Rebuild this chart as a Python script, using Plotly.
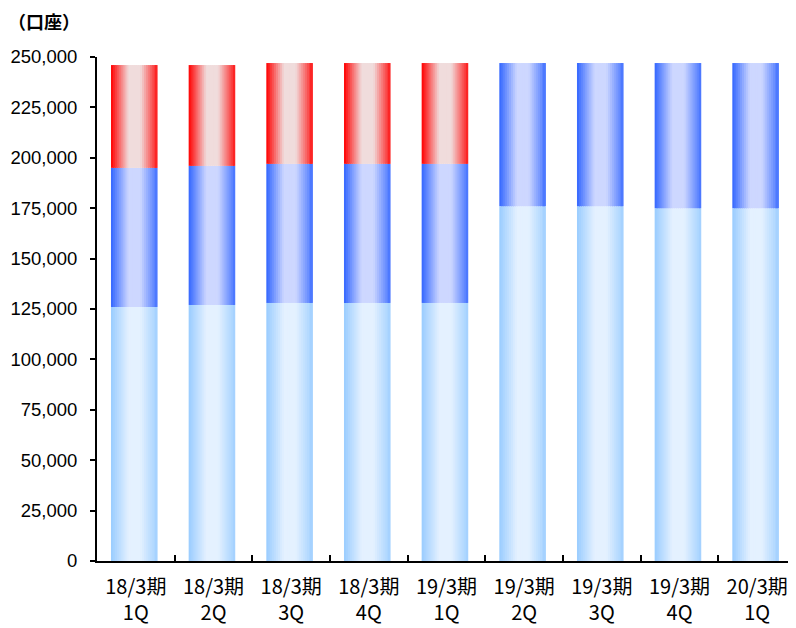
import plotly.graph_objects as go

# ---- data ----
categories = ["18/3期<br>1Q", "18/3期<br>2Q", "18/3期<br>3Q", "18/3期<br>4Q", "19/3期<br>1Q",
              "19/3期<br>2Q", "19/3期<br>3Q", "19/3期<br>4Q", "20/3期<br>1Q"]
series_bottom = [126000, 127000, 128000, 128000, 128000, 176000, 176000, 175000, 175000]
series_middle = [69000, 69000, 69000, 69000, 69000, 71000, 71000, 72000, 72000]
series_top = [51000, 50000, 50000, 50000, 50000, 0, 0, 0, 0]
y_tickvals = [0, 25000, 50000, 75000, 100000, 125000, 150000, 175000, 200000, 225000, 250000]
unit_label = "（口座）"

# ---- styling (gradient edge/center colours per series) ----
styles = [
    ((153, 204, 255), (228, 241, 255)),   # light blue
    ((51, 102, 255), (205, 215, 255)),    # blue
    ((255, 0, 0), (240, 220, 220)),       # red
]
N_STRIPS = 24
BAR_W = 0.6
BAR_OFF = -0.32


def mix_profile(t):
    if t < 0.38:
        return t / 0.38
    if t < 0.63:
        return 1.0
    return 0.12 + 0.88 * (1 - t) / 0.37


def blend(a, b, m):
    return "rgb({},{},{})".format(*[int(round(a[i] + (b[i] - a[i]) * m)) for i in range(3)])


fig = go.Figure()
series = [series_bottom, series_middle, series_top]
bases = [0] * len(categories)
for s_idx, vals in enumerate(series):
    edge, center = styles[s_idx]
    step = BAR_W / N_STRIPS
    for i in range(N_STRIPS):
        t = (i + 0.5) / N_STRIPS
        col = blend(edge, center, mix_profile(t))
        w = step * 1.6 if i < N_STRIPS - 1 else step
        fig.add_trace(go.Bar(
            x=categories, y=vals, base=bases,
            offset=BAR_OFF + i * step, width=w,
            marker=dict(color=col, line=dict(width=0)),
            showlegend=False, hoverinfo="skip",
        ))
    bases = [b + v for b, v in zip(bases, vals)]

fig.update_layout(
    width=788, height=620,
    barmode="overlay",
    plot_bgcolor="white", paper_bgcolor="white",
    margin=dict(l=89, r=0, t=49, b=67),
    showlegend=False,
    title=dict(text="<b>" + unit_label + "</b>", x=0, xanchor="left", y=0.976, yanchor="middle",
               font=dict(family="Noto Sans CJK JP", size=18, color="black")),
)
fig.update_xaxes(
    type="category", showline=True, linecolor="black", linewidth=2,
    ticks="inside", tickson="boundaries", ticklen=6, tickwidth=2, tickcolor="black",
    tickfont=dict(family="Noto Sans CJK JP", size=20, color="black"),
    showgrid=False, zeroline=False, tickangle=0, ticklabelstandoff=7,
    automargin=False,
)
fig.update_yaxes(
    range=[0, 250000], tickvals=y_tickvals, tickformat=",",
    showline=True, linecolor="black", linewidth=2,
    ticks="outside", ticklen=5, tickwidth=2, tickcolor="black",
    tickfont=dict(family="Liberation Sans", size=18.5, color="black"),
    showgrid=False, zeroline=False, ticklabelstandoff=9,
    automargin=False,
)

fig.write_html("out.html")
